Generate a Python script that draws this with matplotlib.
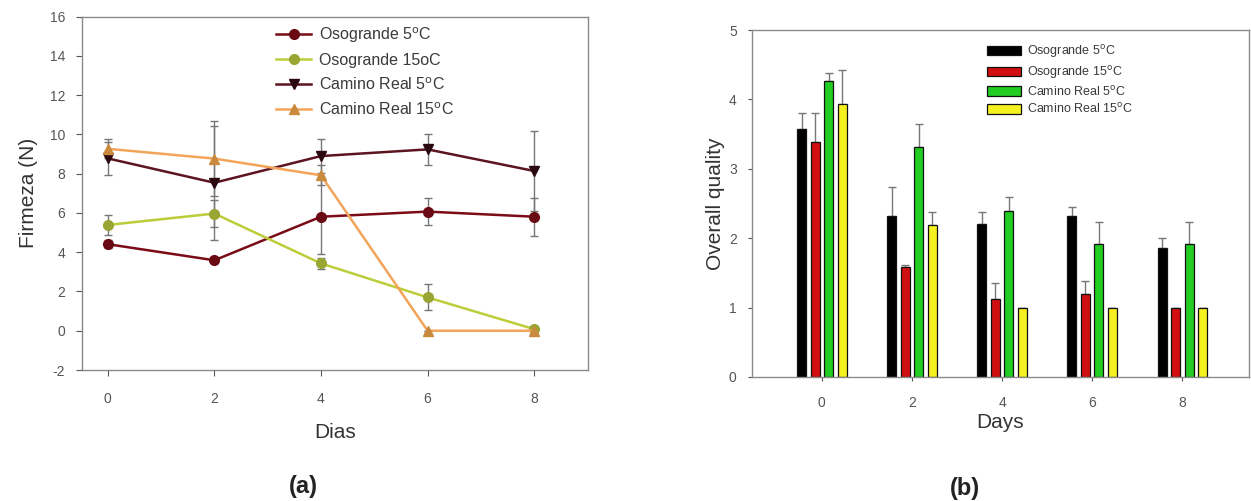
import numpy as np
import matplotlib
matplotlib.use("Agg")
import matplotlib.pyplot as plt

plt.rcParams['font.family'] = ['Liberation Sans', 'DejaVu Sans']
plt.rcParams['axes.unicode_minus'] = False

# ---------------- data: panel (a) ----------------
dias = [0, 2, 4, 6, 8]
oso5 = [4.41, 3.59, 5.81, 6.07, 5.81]
oso5_err = [0.2, 0.15, 1.9, 0.68, 0.97]
oso15 = [5.39, 5.97, 3.43, 1.70, 0.08]
oso15_err = [0.5, 0.7, 0.3, 0.66, 0.0]
cr5 = [8.78, 7.54, 8.90, 9.24, 8.14]
cr5_err = [0.85, 2.9, 0.85, 0.8, 2.03]
cr15 = [9.27, 8.77, 7.92, 0.0, 0.0]
cr15_err = [0.48, 1.9, 0.5, 0.0, 0.0]
labels_a = ['Osogrande 5$^{\\mathrm{o}}$C', 'Osogrande 15oC',
            'Camino Real 5$^{\\mathrm{o}}$C', 'Camino Real 15$^{\\mathrm{o}}$C']

# ---------------- data: panel (b) ----------------
days = [0, 2, 4, 6, 8]
q_oso5 = [3.58, 2.32, 2.20, 2.32, 1.86]
q_oso5_err = [0.23, 0.42, 0.18, 0.13, 0.14]
q_oso15 = [3.39, 1.59, 1.12, 1.19, 1.0]
q_oso15_err = [0.42, 0.02, 0.23, 0.2, 0.0]
q_cr5 = [4.27, 3.31, 2.39, 1.92, 1.92]
q_cr5_err = [0.11, 0.34, 0.21, 0.31, 0.31]
q_cr15 = [3.93, 2.19, 1.0, 1.0, 1.0]
q_cr15_err = [0.49, 0.19, 0.0, 0.0, 0.0]
labels_b = ['Osogrande 5$^{\\mathrm{o}}$C', 'Osogrande 15$^{\\mathrm{o}}$C',
            'Camino Real 5$^{\\mathrm{o}}$C', 'Camino Real 15$^{\\mathrm{o}}$C']

W, H = 1251, 501
fig = plt.figure(figsize=(W / 100, H / 100), dpi=100)

spine_col = '#8a8a8a'
tick_col = '#555555'
err_col = '#777777'

# ---------------- panel (a) ----------------
ax1 = fig.add_axes([81.7 / W, 1 - 370 / H, (588 - 81.7) / W, (370 - 16.7) / H])
series = [
    (oso5, oso5_err, '#7b0b16', '#6a0a12', 'o', 7),
    (oso15, oso15_err, '#bccd3a', '#9aa634', 'o', 7),
    (cr5, cr5_err, '#5c1420', '#2a0a10', 'v', 6.5),
    (cr15, cr15_err, '#f2a55a', '#c98a3e', '^', 6.5),
]
handles = []
for (vals, err, lc, mc, mk, ms), lab in zip(series, labels_a):
    ax1.errorbar(dias, vals, yerr=err, fmt='none', ecolor=err_col,
                 elinewidth=1.0, capsize=3, capthick=1.0, zorder=2)
    h, = ax1.plot(dias, vals, color=lc, lw=1.8, marker=mk, ms=ms,
                  mfc=mc, mec=mc, label=lab, zorder=3)
    handles.append(h)

ax1.set_xlim(-0.49, 9.01)
ax1.set_ylim(-2, 16)
ax1.set_xticks(dias)
ax1.set_yticks(np.arange(-2, 17, 2))
ax1.set_xlabel('Dias', fontsize=15, color='#333333', labelpad=12)
ax1.set_ylabel('Firmeza (N)', fontsize=15, color='#333333', labelpad=8)
for s in ax1.spines.values():
    s.set_color(spine_col)
    s.set_linewidth(1.0)
ax1.tick_params(axis='both', colors=tick_col, labelsize=10, length=4,
                width=0.8, direction='out', pad=8)
ax1.tick_params(axis='x', pad=12)
ax1.legend(handles=handles, loc='upper left',
           bbox_to_anchor=(276 / W, 1 - 25 / H),
           bbox_transform=fig.transFigure, frameon=False, fontsize=11.5,
           borderpad=0, handlelength=2.2, handletextpad=0.5,
           labelspacing=0.52, borderaxespad=0, labelcolor='#3a3a3a')

# ---------------- panel (b) ----------------
ax2 = fig.add_axes([752 / W, 1 - 377 / H, (1249 - 752) / W, (377 - 30) / H])
xb = np.array(days, dtype=float)
bw = 0.2
step = 0.3
bar_series = [
    (q_oso5, q_oso5_err, '#000000'),
    (q_oso15, q_oso15_err, '#d01010'),
    (q_cr5, q_cr5_err, '#22cc22'),
    (q_cr15, q_cr15_err, '#f5f020'),
]
bhandles = []
for i, ((vals, err, col), lab) in enumerate(zip(bar_series, labels_b)):
    pos = xb + (i - 1.5) * step
    ax2.errorbar(pos, vals, yerr=[np.zeros(len(err)), err], fmt='none',
                 ecolor=err_col, elinewidth=1.0, capsize=3, capthick=1.0,
                 zorder=1)
    b = ax2.bar(pos, vals, width=bw, color=col, edgecolor='#111111',
                linewidth=0.9, label=lab, zorder=2)
    bhandles.append(b)

ax2.set_xlim(-1.55, 9.48)
ax2.set_ylim(0, 5)
ax2.set_xticks(days)
ax2.set_yticks(np.arange(0, 6, 1))
ax2.set_xlabel('Days', fontsize=15, color='#333333', labelpad=2)
ax2.set_ylabel('Overall quality', fontsize=15, color='#333333', labelpad=3)
for s in ax2.spines.values():
    s.set_color(spine_col)
    s.set_linewidth(1.0)
ax2.tick_params(axis='both', colors=tick_col, labelsize=10, length=3,
                width=0.8, direction='out', pad=8)
ax2.tick_params(axis='x', pad=11)
ax2.legend(handles=bhandles, loc='upper left',
           bbox_to_anchor=(987 / W, 1 - 43 / H),
           bbox_transform=fig.transFigure, frameon=False, fontsize=9,
           borderpad=0, handlelength=2.7, handleheight=0.8,
           handletextpad=0.5, labelspacing=0.3, borderaxespad=0,
           labelcolor='#3a3a3a')

# panel labels
fig.text(303 / W, 1 - 487 / H, '(a)', fontsize=17, fontweight='bold',
         ha='center', va='center', color='#222222')
fig.text(965 / W, 1 - 488 / H, '(b)', fontsize=17, fontweight='bold',
         ha='center', va='center', color='#222222')

fig.savefig('out.png', dpi=100)
